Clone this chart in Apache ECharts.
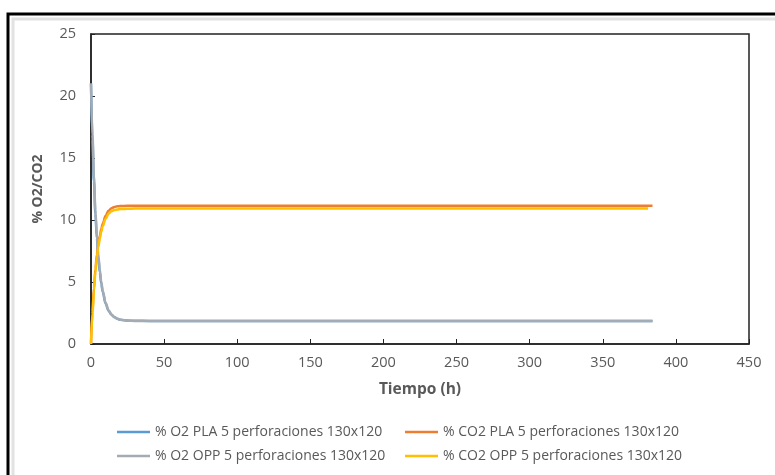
<!DOCTYPE html>
<html>
<head>
<meta charset="utf-8">
<script src="https://cdn.jsdelivr.net/npm/echarts@6/dist/echarts.min.js"></script>
<style>html,body{margin:0;padding:0;background:#fff;}#c{width:775px;height:475px;}</style>
</head>
<body>
<div id="c"></div>
<script>
// Time points (h)
var times = [0, 1, 2, 3, 4, 5, 6, 7, 8, 10, 12, 14, 16, 18, 20, 25, 30, 40, 60, 100, 200, 300, 384];
var timesOppCO2 = [0, 1, 2, 3, 4, 5, 6, 7, 8, 10, 12, 14, 16, 18, 20, 25, 30, 40, 60, 100, 200, 300, 381];
var o2Pla  = [21, 16.5, 13.1, 10.5, 8.5, 7.0, 5.8, 4.9, 4.2, 3.25, 2.68, 2.35, 2.15, 2.03, 1.96, 1.89, 1.87, 1.86, 1.86, 1.86, 1.86, 1.86, 1.86];
var co2Pla = [0, 2.6, 4.5, 6.0, 7.2, 8.0, 8.7, 9.25, 9.7, 10.35, 10.75, 10.95, 11.05, 11.1, 11.12, 11.14, 11.15, 11.15, 11.15, 11.15, 11.15, 11.15, 11.15];
var o2Opp  = [21, 16.9, 13.5, 10.8, 8.8, 7.2, 6.0, 5.05, 4.3, 3.32, 2.72, 2.38, 2.17, 2.04, 1.96, 1.88, 1.86, 1.85, 1.85, 1.85, 1.85, 1.85, 1.85];
var co2Opp = [0, 2.4, 4.3, 5.8, 7.0, 7.8, 8.5, 9.05, 9.5, 10.1, 10.5, 10.7, 10.8, 10.85, 10.88, 10.9, 10.92, 10.92, 10.92, 10.92, 10.92, 10.92, 10.92];
var seriesNames = [
  '% O2 PLA 5 perforaciones 130x120',
  '% CO2 PLA 5 perforaciones 130x120',
  '% O2 OPP 5 perforaciones 130x120',
  '% CO2 OPP 5 perforaciones 130x120'
];

function pairs(t, v) { return t.map(function (x, i) { return [x, v[i]]; }); }

var colors = ['#5B9BD5', '#ED7D31', '#A5ABB3', '#FFC000'];
var dataSets = [pairs(times, o2Pla), pairs(times, co2Pla), pairs(times, o2Opp), pairs(timesOppCO2, co2Opp)];

var chart = echarts.init(document.getElementById('c'));
var font = 'Open Sans';
var legendPos = [[112, 420], [400, 420], [112, 444], [400, 444]];
function mkLegend(i) {
  return { data: [seriesNames[i]], left: legendPos[i][0], top: legendPos[i][1], itemWidth: 33, itemHeight: 2.5, icon: 'rect',
    textStyle: { fontFamily: font, fontSize: 14, color: '#595959' } };
}
chart.setOption({
  animation: false,
  backgroundColor: '#fff',
  color: colors,
  graphic: [
    { type: 'rect', shape: { x: 13, y: 19, width: 800, height: 500 }, style: { fill: 'none', stroke: '#e2e2e2', lineWidth: 3 }, silent: true },
    { type: 'rect', shape: { x: 8, y: 14, width: 800, height: 500 }, style: { fill: 'none', stroke: '#000', lineWidth: 3 }, silent: true }
  ],
  grid: { left: 91, top: 34, right: 26, bottom: 131, show: true, borderColor: '#222', borderWidth: 1.5, backgroundColor: 'transparent' },
  legend: [mkLegend(0), mkLegend(1), mkLegend(2), mkLegend(3)],
  xAxis: {
    type: 'value', min: 0, max: 450, interval: 50,
    name: 'Tiempo (h)', nameLocation: 'middle', nameGap: 38,
    nameTextStyle: { fontFamily: font, fontSize: 15.5, fontWeight: 'bold', color: '#595959' },
    axisLine: { show: true, lineStyle: { color: '#222', width: 1.5 } },
    axisTick: { show: true, inside: true, length: 5, lineStyle: { color: '#222' } },
    axisLabel: { fontFamily: font, fontSize: 14.5, color: '#595959', margin: 11 },
    splitLine: { show: false }
  },
  yAxis: {
    type: 'value', min: 0, max: 25, interval: 5,
    name: '% O2/CO2', nameLocation: 'middle', nameGap: 46, nameRotate: 90,
    nameTextStyle: { fontFamily: font, fontSize: 14, fontWeight: 'bold', color: '#595959' },
    axisLine: { show: true, lineStyle: { color: '#222', width: 1.5 } },
    axisTick: { show: true, inside: true, length: 4, lineStyle: { color: '#222' } },
    axisLabel: { fontFamily: font, fontSize: 14.5, color: '#595959', margin: 15 },
    splitLine: { show: false }
  },
  series: dataSets.map(function (d, i) {
    return {
      name: seriesNames[i], type: 'line', data: d, showSymbol: false, symbol: 'none',
      smooth: 0.35, smoothMonotone: 'x',
      lineStyle: { width: 2.5, color: colors[i] }
    };
  })
});
</script>
</body>
</html>
